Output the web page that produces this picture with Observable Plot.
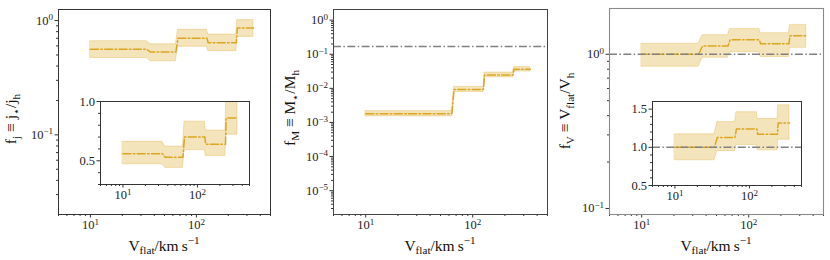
<!DOCTYPE html>
<html>
<head>
<meta charset="utf-8">
<script src="https://cdn.jsdelivr.net/npm/d3@7"></script>
<script src="https://cdn.jsdelivr.net/npm/@observablehq/plot@0.6"></script>
<style>
  html, body { margin: 0; padding: 0; background: white; }
  #wrap { position: relative; width: 830px; height: 260px; background: white; overflow: hidden; }
  #wrap svg { position: absolute; overflow: visible; }
</style>
</head>
<body>
<div id="wrap"></div>
<script>
// ---- data ----
const vEdges = [10, 34, 37, 64, 67, 126, 129, 238, 243, 345];

const fjMid = [0.56, 0.56, 0.53, 0.53, 0.70, 0.70, 0.64, 0.64, 0.86, 0.86];
const fjLo  = [0.47, 0.47, 0.44, 0.44, 0.59, 0.59, 0.54, 0.54, 0.72, 0.72];
const fjHi  = [0.66, 0.66, 0.62, 0.62, 0.83, 0.83, 0.755, 0.755, 1.01, 1.01];

const fMMid = [1.8e-3, 1.8e-3, 1.8e-3, 1.8e-3, 9.3e-3, 9.3e-3, 0.0246, 0.0246, 0.036, 0.036];
const fMLo  = [1.5e-3, 1.5e-3, 1.5e-3, 1.5e-3, 7.8e-3, 7.8e-3, 0.021, 0.021, 0.031, 0.031];
const fMHi  = [2.15e-3, 2.15e-3, 2.15e-3, 2.15e-3, 0.011, 0.011, 0.029, 0.029, 0.042, 0.042];
const fMRef = [0.168];

const fVMid = [1.00, 1.00, 1.13, 1.13, 1.24, 1.24, 1.17, 1.17, 1.32, 1.32];
const fVLo  = [0.83, 0.83, 0.95, 0.95, 1.03, 1.03, 0.96, 0.96, 1.10, 1.10];
const fVHi  = [1.17, 1.17, 1.33, 1.33, 1.46, 1.46, 1.37, 1.37, 1.55, 1.55];
const fVRef = [1.0];

const xMajor = [10, 100];
const xMinor = [5, 6, 7, 8, 9, 20, 30, 40, 50, 60, 70, 80, 90, 200, 300, 400, 500];
const yMajor1 = [0.1, 1];
const yMinor1 = [0.03, 0.04, 0.05, 0.06, 0.07, 0.08, 0.09, 0.2, 0.3, 0.4, 0.5, 0.6, 0.7, 0.8, 0.9];
const yMajor2 = [1e-5, 1e-4, 1e-3, 1e-2, 1e-1, 1];
const yMinor2 = [];
for (let e = -6; e <= 0; e++) for (let m = 2; m <= 9; m++) { const v = m * Math.pow(10, e); if (v > 2e-6 && v < 2) yMinor2.push(v); }
const yMajor3 = [0.1, 1];
const yMinor3 = [0.2, 0.3, 0.4, 0.5, 0.6, 0.7, 0.8, 0.9];
const inset1Major = [0.5, 1.0];
const inset1Minor = [0.3, 0.4, 0.6, 0.7, 0.8, 0.9];
const inset3Major = [0.5, 1.0, 1.5];
const inset3Minor = [0.6, 0.7, 0.8, 0.9, 1.1, 1.2, 1.3, 1.4];

const rows = (mid, lo, hi) => vEdges.map((v, i) => ({v, mid: mid[i], lo: lo[i], hi: hi[i]}));
const dj = rows(fjMid, fjLo, fjHi);
const dM = rows(fMMid, fMLo, fMHi);
const dV = rows(fVMid, fVLo, fVHi);

// ---- style ----
const GOLD = "#DAA520";
const DASH = "8,2.4,1.5,2.4";
const FONT = "'Liberation Serif', 'DejaVu Serif', serif";
const TICKFS = 12.5;
const LABFS = 15.5;
const wrap = document.getElementById("wrap");

const pow10 = d => "10^" + String(Math.round(Math.log10(d))).replace("-", "\u2212");
const lin1 = d => d.toFixed(1);

function axes(xMaj, yMaj, yMin, yFmt) {
  return [
    Plot.axisX({ticks: xMaj, tickFormat: pow10, tickSize: 3.5, tickPadding: 2.5, label: null, stroke: "#333"}),
    Plot.axisX({ticks: xMinor, tickFormat: () => "", tickSize: 2, label: null, stroke: "#333"}),
    Plot.axisY({ticks: yMaj, tickFormat: yFmt, tickSize: 3.5, tickPadding: 2, label: null, stroke: "#333"}),
    Plot.axisY({ticks: yMin, tickFormat: () => "", tickSize: 2, label: null, stroke: "#333"})
  ];
}

function bandMarks(data, clip) {
  return [
    Plot.areaY(data, {x: "v", y1: "lo", y2: "hi", fill: GOLD, fillOpacity: 0.3, stroke: GOLD, strokeOpacity: 0.3, strokeWidth: 1, clip}),
    Plot.line(data, {x: "v", y: "mid", stroke: GOLD, strokeWidth: 1.5, strokeDasharray: DASH, clip})
  ];
}

function refLine(vals) {
  return Plot.ruleY(vals, {stroke: "gray", strokeWidth: 1.5, strokeDasharray: DASH});
}

function superscripts(svg) {
  d3.select(svg).selectAll("g[aria-label$='tick label'] text").each(function() {
    const s = this.textContent;
    const m = s.match(/^10\^(.+)$/);
    if (!m) return;
    const t = d3.select(this);
    t.text("");
    t.append("tspan").text("10");
    t.append("tspan").attr("dy", "-0.5em").attr("font-size", "0.72em").text(m[1]);
  });
}

function rich(g, parts, size) {
  let shift = 0;
  for (const p of parts) {
    const target = p.sub ? size * 0.25 : p.sup ? -size * 0.4 : 0;
    const ts = g.append("tspan").text(p.t).attr("dy", target - shift);
    if (p.sub || p.sup) ts.attr("font-size", size * 0.72);
    shift = target;
  }
}

function addLabel(svg, x, y, rotate, parts) {
  const t = d3.select(svg).append("text")
    .attr("font-family", FONT).attr("font-size", LABFS).attr("fill", "#111")
    .attr("text-anchor", "middle")
    .attr("transform", `translate(${x},${y})` + (rotate ? " rotate(-90)" : ""));
  rich(t, parts, LABFS);
}

function place(svg, left, top) {
  svg.style.left = left + "px";
  svg.style.top = top + "px";
  superscripts(svg);
  wrap.appendChild(svg);
  return svg;
}

const xLabelParts = [{t: "V"}, {t: "flat", sub: true}, {t: "/km\u2009s"}, {t: "\u22121", sup: true}];
const plotStyle = {background: "transparent", fontFamily: FONT, fontSize: TICKFS + "px", color: "#222", overflow: "visible"};
const XLAB_Y = 250.5;

// ---- panel 1 ----
{
  const svg = Plot.plot({
    width: 280, height: 260, marginLeft: 58, marginRight: 10, marginTop: 9, marginBottom: 46,
    x: {type: "log", domain: [5, 500]},
    y: {type: "log", domain: [0.0201, 1.25]},
    style: plotStyle,
    marks: [
      ...bandMarks(dj, false),
      ...axes(xMajor, yMajor1, yMinor1, pow10),
      Plot.frame({stroke: "#333", strokeWidth: 1})
    ]
  });
  place(svg, 0, 0);
  addLabel(svg, 164, XLAB_Y, false, xLabelParts);
  addLabel(svg, 16, 119, true, [{t: "f"}, {t: "j", sub: true}, {t: " \u2261 j"}, {t: "\u22c6", sub: true}, {t: "/j"}, {t: "h", sub: true}]);
}
// inset 1
{
  const svg = Plot.plot({
    width: 180, height: 113, marginLeft: 28, marginRight: 3, marginTop: 9, marginBottom: 21,
    x: {type: "log", domain: [5, 500]},
    y: {type: "linear", domain: [0.3, 1.0]},
    style: plotStyle,
    marks: [
      Plot.frame({fill: "white", stroke: "none"}),
      ...bandMarks(dj, true),
      ...axes(xMajor, inset1Major, inset1Minor, lin1),
      Plot.frame({stroke: "#333", strokeWidth: 1})
    ]
  });
  place(svg, 72, 92);
}

// ---- panel 2 ----
{
  const svg = Plot.plot({
    width: 290, height: 260, marginLeft: 63, marginRight: 13, marginTop: 9, marginBottom: 46,
    x: {type: "log", domain: [5, 500]},
    y: {type: "log", domain: [2e-6, 2.05]},
    style: plotStyle,
    marks: [
      refLine(fMRef),
      ...bandMarks(dM, false),
      ...axes(xMajor, yMajor2, yMinor2, pow10),
      Plot.frame({stroke: "#444", strokeWidth: 1})
    ]
  });
  place(svg, 270, 0);
  addLabel(svg, 170, XLAB_Y, false, xLabelParts);
  addLabel(svg, 25, 108, true, [{t: "f"}, {t: "M", sub: true}, {t: " \u2261 M"}, {t: "\u22c6", sub: true}, {t: "/M"}, {t: "h", sub: true}]);
}

// ---- panel 3 ----
{
  const svg = Plot.plot({
    width: 280, height: 260, marginLeft: 59, marginRight: 7, marginTop: 8, marginBottom: 46,
    x: {type: "log", domain: [5, 500]},
    y: {type: "log", domain: [0.0914, 1.98]},
    style: plotStyle,
    marks: [
      ...bandMarks(dV, false),
      refLine(fVRef),
      ...axes(xMajor, yMajor3, yMinor3, pow10),
      Plot.frame({stroke: "#8a8a8a", strokeWidth: 1.1})
    ]
  });
  place(svg, 550, 0);
  addLabel(svg, 166, XLAB_Y, false, xLabelParts);
  addLabel(svg, 20, 111, true, [{t: "f"}, {t: "V", sub: true}, {t: " \u2261 V"}, {t: "flat", sub: true}, {t: "/V"}, {t: "h", sub: true}]);
}
// inset 3
{
  const svg = Plot.plot({
    width: 180, height: 114, marginLeft: 28, marginRight: 3, marginTop: 9, marginBottom: 21,
    x: {type: "log", domain: [5, 500]},
    y: {type: "linear", domain: [0.5, 1.6]},
    style: plotStyle,
    marks: [
      Plot.frame({fill: "white", stroke: "none"}),
      ...bandMarks(dV, true),
      refLine(fVRef),
      ...axes(xMajor, inset3Major, inset3Minor, lin1),
      Plot.frame({stroke: "#333", strokeWidth: 1})
    ]
  });
  place(svg, 624, 92);
}
</script>
</body>
</html>
